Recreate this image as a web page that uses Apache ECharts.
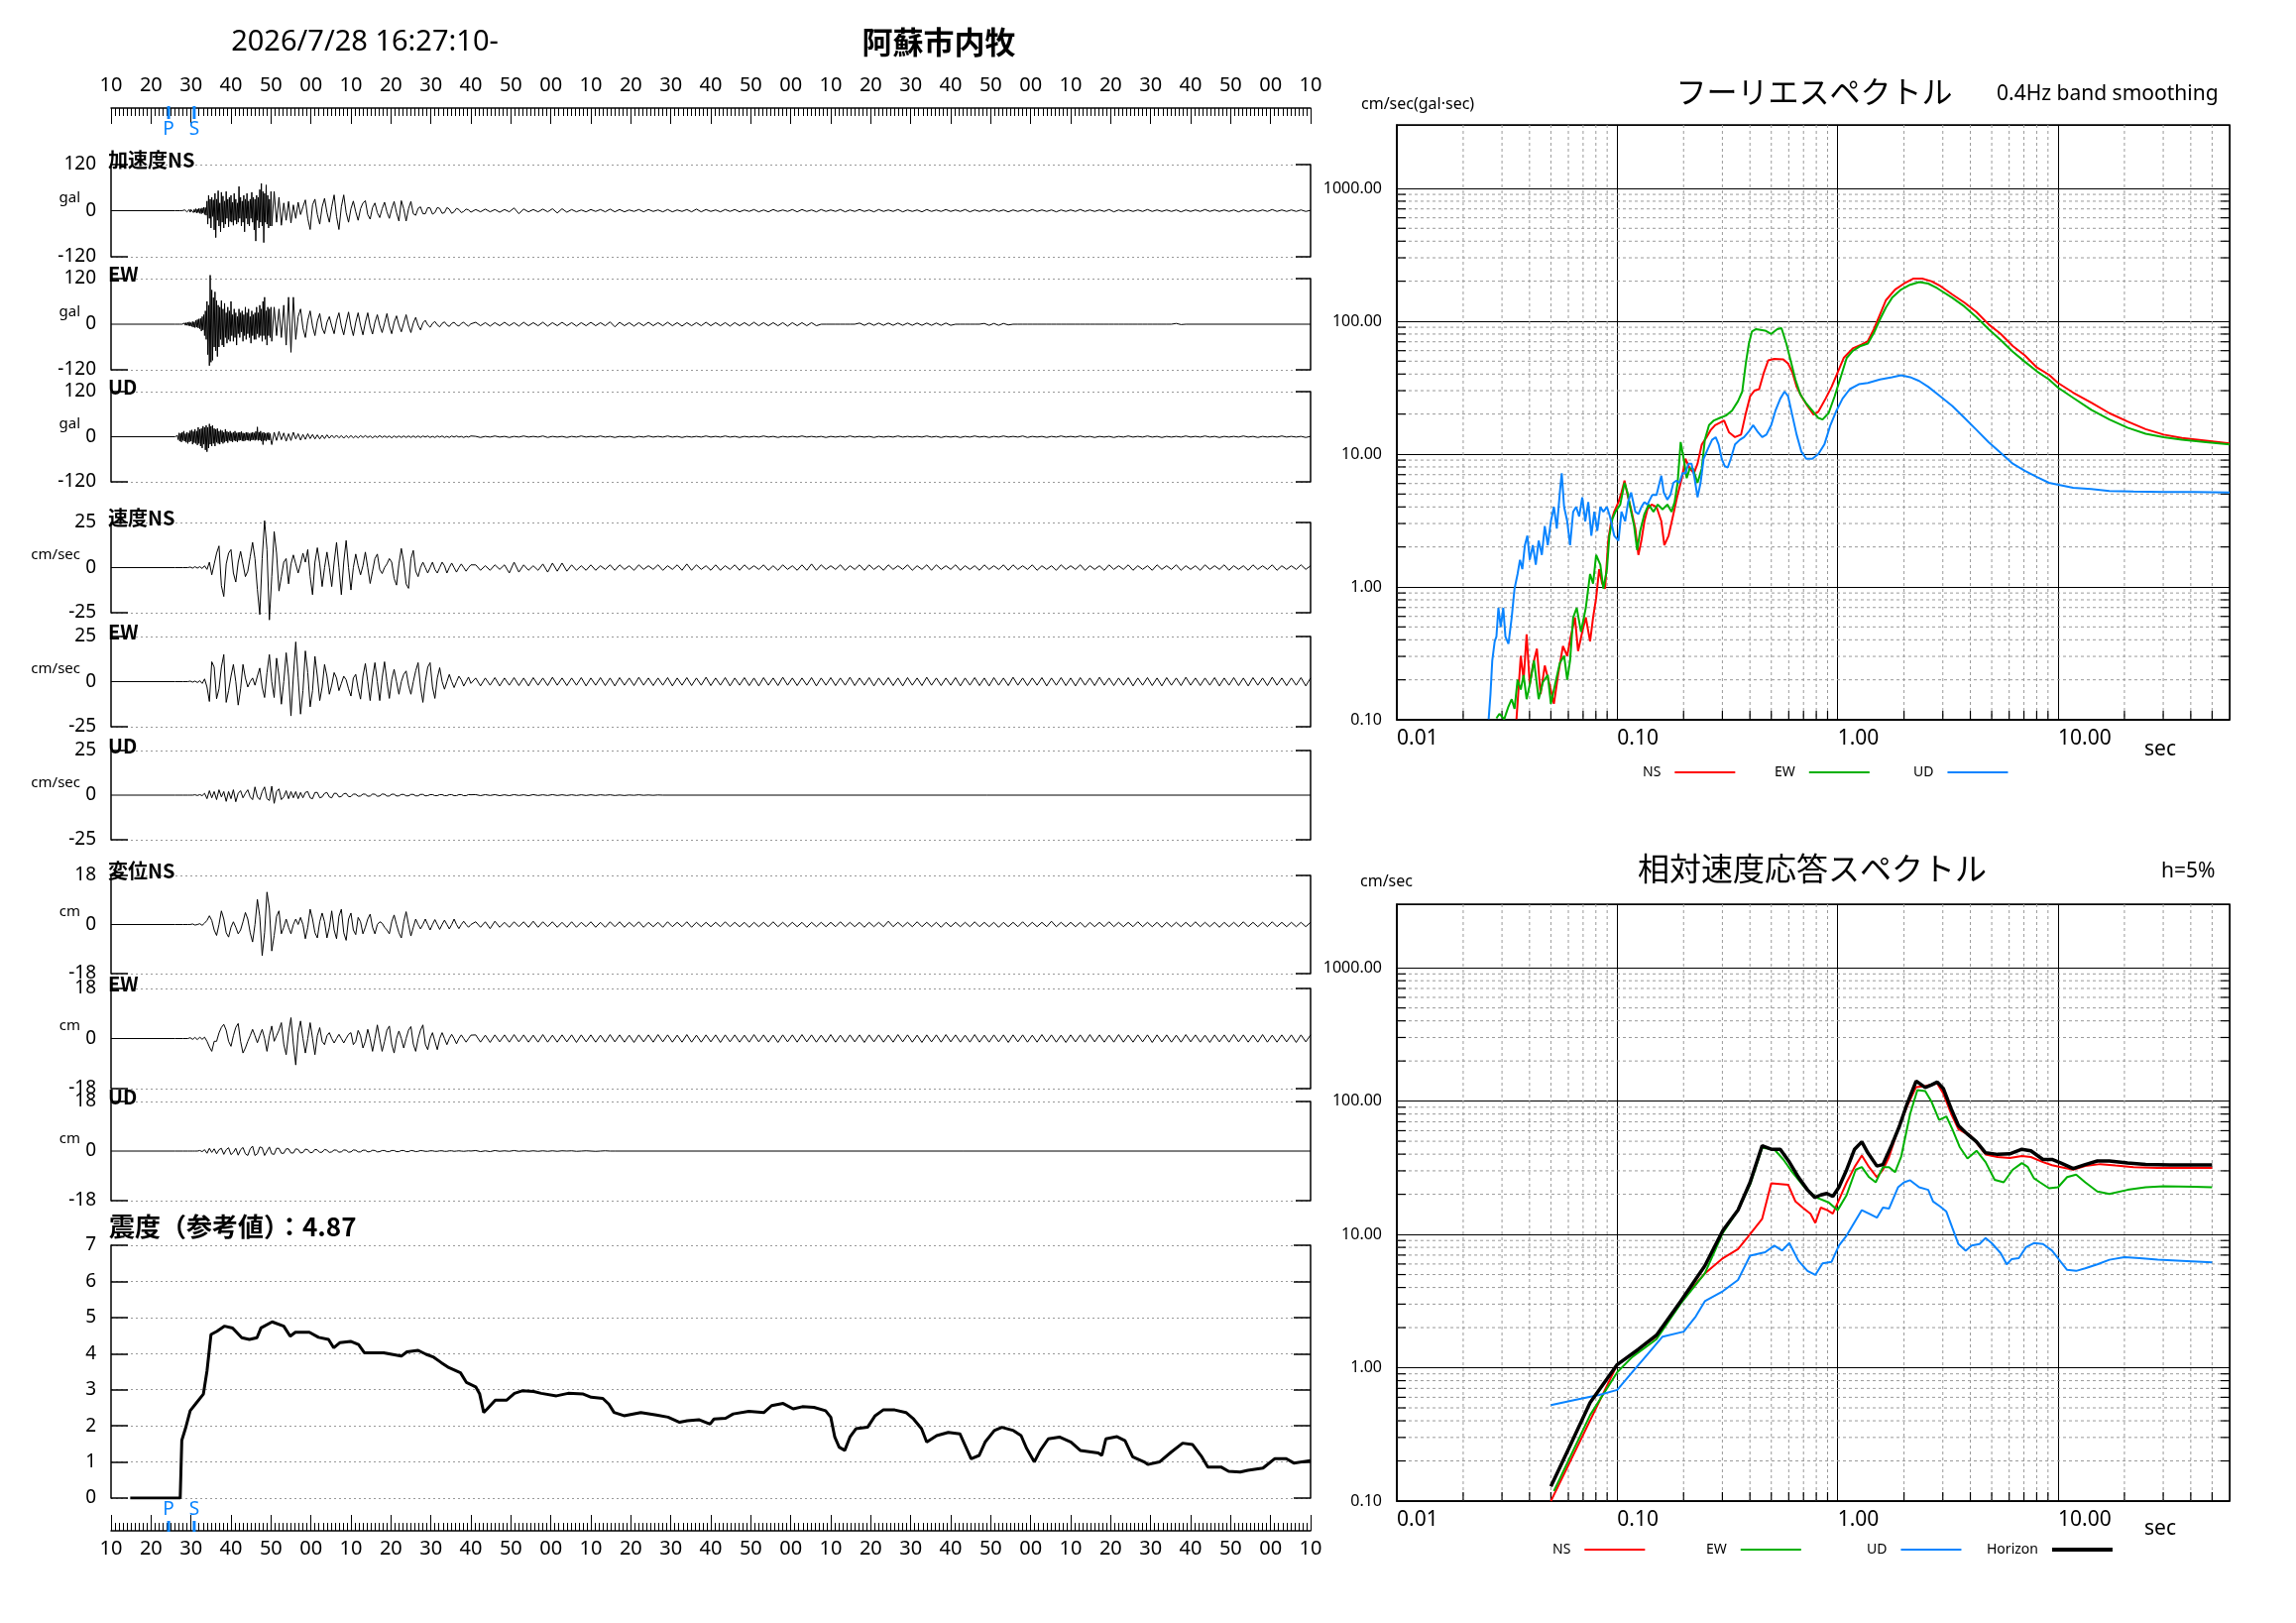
<!DOCTYPE html>
<html><head><meta charset="utf-8">
<script src="https://cdn.jsdelivr.net/npm/echarts@6/dist/echarts.min.js"></script>
<style>html,body{margin:0;padding:0;background:#fff}#c{width:2316px;height:1637px}</style>
</head><body><div id="c"></div>
<script>
// ---------------- DATA ----------------
// waveform samples: high-frequency part every 0.2 s from 16:27:26.6 (acceleration only),
// strong part every 0.6 s from 16:27:28, tail every 1.2 s from 16:28:41.2
const HF_T0 = 26.6, HF_DT = 0.2;
const STRONG_T0 = 28, STRONG_DT = 0.6, TAIL_T0 = 101.2, TAIL_DT = 1.2;
const psTimes = [24.4, 30.8];
const psLabels = ['P', 'S'];

const accNSHf = [0,0,0,0,0,0,0,
 1,-1,2,-2,1,-3,2,-2,3,-4,3,-2,4,-5,3,-4,5,-6,4,-5,6,-7,5,-8,7,-6,9,-10,8,-12,
 25,-35,40,-20,30,-45,35,-15,28,-50, 45,-70,30,-25,52,-40,20,-55,48,-30, 38,-45,25,-35,50,-20,30,-42,35,-28,
 40,-30,22,-38,45,-25,30,-35,20,-30, 63,-20,35,-40,25,-30,40,-55,30,-20, 45,-35,25,-40,30,-20,48,-30,35,-50,
 30,-79,40,-25,35,-45,55,-30,71,-40, 50,-83,45,-30,67,-35,40,-45,30,-40,50];
const accNS = [1,-2,3,-3,4,-5,5,-6,8,-10, 30,-45,40,-70,55,-50,45,-60,40,-35, 50,-45,30,-40,63,-30,35,-55,45,-25,
 48,-79,40,-35,71,-83,67,-40,50,-30, 35,-38,20,-25,24,-32,15,-20,22,-10, 10,28,-20,-49,15,30,-10,-35,10,32,
 -5,-30,10,41,-15,-49,10,41,-5,-30, 5,25,-3,-25,5,20,26,-10,-22,8, 20,-5,-18,5,22,-3,-20,5,24,-5,
 -27,26,5,-27,5,24,-8,-12,6,10, -8,-8,8,7,-9,-5,8,6,-7,-5, 8,4,-7,-3,6,3,-5,-2,4,2, -4];
const accNSTail = [3,-3,4,-3,3,-4,3,-3,7,-8,4,-3,3,-3,4,-3,5,-6,5,-4,3,-3,2,-3,3,
 -2,3,-3,4,-3,3,-3,2,-2,3,-3,3,-2,2,-3,3,-3,2,-2,3,-3,4,-3,3,-2,
 2,-3,3,-2,3,-3,2,-2,3,-3,2,-3,3,-2,2,-2,3,-3,3,-2,2,-3,3,-2,2,
 -2,3,-3,2,-2,3,-2,2,-3,3,-2,2,-2,3,-3,2,-2,2,-3,3,-2,2,-2,3,-2,
 2,-2,3,-3,2,-2,2,-2,3,-2,2,-3,2,-2,2,-2,3,-2,2,-2,2,-3,2,-2,2,
 -2,3,-2,2,-2,2,-2,3,-3,2,-2,2,-2,2,-2,3,-2,2,-2,2,-2,2,-3,2,-2,
 2,-2,3,-2,2,-2,2,-2,2,-3,2,-2,2,-2,2,-2,3,-2,2,-2,2,-2,2,-2,1];
const accEWHf = [0,0,0,0,0,0,0,
 2,-2,3,-3,4,-3,5,-4,6,-5,4,-6,7,-8,6,-9,10,-8,12,-10,14,-12,15,-18,20,-15,25,-30,35,-40,
 60,-80,50,-109,129,-100,90,-95,70,-60, 85,-70,62,-85,50,-60,45,-40,62,-55, 40,-60,55,-35,30,-50,45,-40,35,-45,
 60,-30,25,-45,40,-35,30,-55,20,-25, 40,-35,30,-20,35,-45,25,-30,45,-40, 30,-25,40,-35,20,-50,35,-30,25,-40,
 30,-40,45,-25,30,-35,50,-30,40,-45, 60,-30,71,-40,35,-55,45,-30,40,-35,45];
const accEW = [2,-3,4,-5,6,-8,10,-12,15,-20, 60,-109,129,-95,70,-85,62,-60,55,-50, 60,-45,30,-55,40,-30,35,-40,45,-25,
 40,-50,30,-40,50,-30,60,-45,45,-30, 40,-35,50,-55,71,-74,71,-40,20,40, -10,-35,10,35,-5,-30,8,28,-10,-25,
 5,20,-5,-25,10,30,-5,-28,5,32, -5,-30,5,30,-3,-28,5,30,-5,-26, 5,25,-3,-22,3,28,-5,-25,5,22,
 -3,-20,3,25,-3,-22,3,18,-3,-15, 3,10,-2,-8,2,7,-2,-7,2,6, -2,-6,2,5,-2,-5,2,5,-1,-5, 1];
const accEWTail = [5,-4,4,-5,4,-4,5,-4,4,-5,5,-4,4,-4,5,-5,4,-4,5,-4,4,-5,4,-4,5,
 -4,4,-4,6,-7,5,-4,4,-5,4,-4,5,-4,4,-4,5,-4,4,-5,4,-4,4,-4,5,-4,
 4,-4,4,-5,4,-4,4,-4,5,-4,4,-4,4,-4,4,-5,4,-4,4,-4,4,-4,0,0,0,
 0,0,0,0,0,3,-3,3,-3,3,-3,3,-3,3,-3,3,-3,3,-3,3,-3,3,-3,3,-3,
 0,0,0,0,0,0,2,-3,2,-3,2,-2,0,0,0,0,0,0,0,0,0,0,0,0,0,
 0,0,0,0,0,0,0,0,0,0,0,0,0,0,0,0,0,0,0,0,0,2,-1,0,0];
const accUDHf = [3,-8,10,-12,9,-14,12,
 -10,15,-12,8,-15,12,-18,10,-14,16,-12,18,-20,14,-16,20,-18,15,-22,25,-18,20,-25,22,-30,28,-20,25,-35,30,
 -40,25,-30,34,-20,28,-25,30,-18,22, -25,20,-15,22,-18,15,-20,18,-14,16, -18,12,-15,20,-12,14,-16,12,-10,15,
 -12,10,-14,12,-10,15,-12,10,-14,11, -10,12,-9,14,-11,10,-12,9,-10,12, -9,11,-10,8,-12,10,-9,12,-8,10,
 -10,14,-8,26,-10,12,-9,15,-12,10, -21,12,-10,9,-12,10,-8,11,-9,8,-10];
const accUD = [10,-12,8,-15,12,-10,18,-14,20,-25, -40,30,-20,34,-25,20,-18,15,-20,18, -15,20,-12,15,-18,12,-15,17,-10,14,
 -12,10,-14,26,-8,15,-12,-21,12,-10, 14,-8,10,-12,8,-10,12,-6,8,-9, 6,-7,8,-5,6,-6,5,-6,4,-5,
 5,-4,4,-3,4,-3,3,-4,3,-3, 3,-3,2,-3,3,-2,3,-2,2,-3, 2,-2,3,-2,2,-2,2,-3,2,-2,
 2,-2,2,-2,2,-2,2,-2,2,-2, 2,-1,2,-2,1,-2,2,-1,2,-2, 1,-2,2,-1,2,-1,1,-2,1,-1, 2];
const accUDTail = [1,-2,1,-1,2,-1,1,-2,1,-1,2,-1,1,-1,2,-2,1,-1,1,-2,1,-1,2,-1,1,
 -1,2,-1,1,-2,1,-1,1,-2,1,-1,2,-1,1,-1,2,-1,1,-2,1,-1,1,-1,2,-1,
 1,-1,2,-1,1,-2,1,-1,1,-1,2,-1,1,-2,1,-1,1,-1,2,-1,1,-1,1,-2,1,
 -1,1,-1,2,-1,1,-1,1,-2,1,-1,1,-1,2,-1,1,-1,1,-1,2,-1,1,-2,1,-1,
 1,-2,1,-1,2,-1,1,-2,1,-1,2,-1,1,-1,2,-2,1,-1,1,-2,1,-1,2,-1,1,
 -1,2,-1,1,-2,1,-1,1,-2,1,-1,2,-1,1,-1,2,-1,1,-2,1,-1,1,-1,2,-1,
 1,-1,2,-1,1,-2,1,-1,1,-1,2,-1,1,-2,1,-1,1,-1,2,-1,1,-1,1,-2,1];

const velNS = [0,0,0,0.3,-0.3,0.5,-0.3,0.5,-0.5,1, -1,3,-4,2,8,12,-10,-16,2,8, 10,-3,-8,3,9,2,-5,-2,6,14,
 5,-12,-26,5,26,10,-29,-5,20,8, -13,-5,3,5,-9,2,7,2,-3,2, 8,3,10,-5,-15,3,11,2,-10.5,0,
 8.6,0,-10.5,3,14,0,-15,3,15,0, -12.4,0,7.5,1,-4,1,8.6,0,-8.8,-2, 5,7.5,-1,-3.3,0,2,5,3,-6,-9.7,
 2,10.6,3,-9,-11.5,5,9.5,-2,-5,0, 3,0,-3,0,3,-1,-3,0,3,1, -3,0,2.5,0,-2.5,0,2,0,-2,0, 1.5];
const velNSTail = [1.5,-1.5,1,-1.5,1.5,-1,1.5,-3,3,-2.5,1.5,-1.5,1,-1.5,2,-2.5,2.5,-2,2.5,-2,1.5,-1.5,1,-1.5,1.5,
 -1.5,1,-1,1.5,-1.5,1.5,-1,1,-1.5,1.5,-1,1,-1,1.5,-1.5,1,-1,1.5,-1.5,2,-1.5,1.5,-1,1,-1.5,
 1.5,-1.5,1,-1,1.5,-1.5,1.5,-1,1,-1,1.5,-1.5,1,-1.5,1.5,-1,1,-1.5,1.5,-1.5,2,-1.5,1.5,-1,1,
 -1,1.5,-1.5,1,-1,1.5,-1.5,1.5,-1,1,-1.5,1.5,-1,1,-1,1.5,-1.5,1,-1,1.5,-1.5,1.5,-1,1,-1,
 1.5,-1.5,1,-1,1,-1.5,1.5,-1,1,-1,1.5,-1.5,1.5,-1,1,-1,1.5,-1.5,1,-1,1,-1.5,1.5,-1,1,
 -1,1.5,-1.5,1,-1,1,-1.5,1.5,-1,1,-1,1.5,-1.5,1,-1,1,-1.5,1.5,-1,1,-1,1.5,-1.5,1,-1,
 1,-1.5,1.5,-1,1,-1,1.5,-1.5,1,-1,1,-1.5,1.5,-1,1,-1,1.5,-1.5,1,-1,1,-1,1.5,-1,1];
const velEW = [0,0,0,0.3,-0.3,0.3,-0.5,0.5,-1,1.5, -3,-11,11,8,-9.5,-4,8,15,-11.5,-5, 3,9.5,0,-13,-4,9.5,2,-3,0,2,
 -2,3,7.5,-3,-8.8,5,15,0,-8.8,13, 3,-12.5,0,16,3,-19,3,22,2,-18, -5,17,5,-14,-5,14,3,-10.5,-3,9.5,
 3,-7,-2,5,2,-5,-1,3,1,-4, -8,2,4,-4,-9.7,3,10,0,-10.5,2, 10.5,0,-10.5,2,11,0,-9.3,1,6.8,0,
 -7,0,4,5.9,-2,-7,0,6,10.5,-3, -11.5,0,8,10.5,-3,-9.3,2,7.7,0,-4.2, 0,4,0,-3.3,0,3,1,-2.5,0,2.5, -1];
const velEWTail = [2,-2.4,2,-2,2.2,-2.4,2,-2,2.2,-2.2,2,-2.4,2.2,-2,2,-2.2,2.4,-2,2,-2.2,2,-2,2.2,-2.4,2,
 -2,2.2,-2.2,2,-2.4,2.2,-2,2,-2.2,2.4,-2,2,-2.2,2,-2,2.2,-2.4,2,-2,2.2,-2.2,2,-2,2.4,-2.2,
 2,-2,2.2,-2.4,2,-2,2.2,-2.2,2,-2.4,2.2,-2,2,-2.2,2.4,-2,2,-2.2,2,-2,2.2,-2.4,2,-2,2.2,
 -2.2,2,-2,2.4,-2.2,2,-2,2.2,-2.4,2,-2,2.2,-2.2,2,-2.4,2.2,-2,2,-2.2,2.4,-2,2,-2.2,2,-2,
 2.2,-2.4,2,-2,2.2,-2.2,2,-2.4,2.2,-2,2,-2.2,2.4,-2,2,-2.2,2,-2,2.2,-2.4,2,-2,2.2,-2.2,2,
 -2.4,2.2,-2,2,-2.2,2.4,-2,2,-2.2,2,-2,2.2,-2.4,2,-2,2.2,-2.2,2,-2.4,2.2,-2,2,-2.2,2.4,-2,
 2,-2.2,2,-2,2.2,-2.4,2,-2,2.2,-2.2,2,-2.4,2.2,-2,2,-2.2,2.4,-2,2,-2.2,2,-2,2.2,-2.4,2];
const velUD = [0,0,0,0,0,0.2,-0.2,0.3,-0.3,1, -2,2.5,-1.5,2,-2.5,3,-1,2,-3.5,2, -2,3,-3.7,1,2.5,-1.5,1,3,-1,-2.5,
 4.6,-1,-2.5,2,4.6,-2,-3,5,-4.6,2, 3.5,-2.5,-1,2.5,-2,2,-1.5,2,-2,1.5, -1.5,1.5,2,-1.5,-2,1.5,1.5,-1.5,-1,1,
 1.5,-1,-1.5,1,1,-1,-0.8,0.8,1,-0.8, -0.8,0.6,0.5,-0.6,-0.5,0.6,0.5,-0.6,-0.5,0.6, 0.5,-0.6,-0.5,0.6,0.5,-0.5,-0.5,0.5,0.5,-0.5,
 -0.4,0.4,0.4,-0.4,-0.4,0.4,0.4,-0.4,-0.4,0.4, 0.4,-0.4,-0.3,0.3,0.3,-0.3,-0.3,0.3,0.3,-0.3, -0.3,0.3,0.3,-0.3,-0.3,0.3,0.3,-0.3,-0.3,0.3, 0.2];
const velUDTail = [0.3,-0.3,0.3,-0.2,0.3,-0.3,0.2,-0.3,0.3,-0.2,0.2,-0.3,0.3,-0.2,0.2,-0.2,0.3,-0.2,0.2,-0.2,
 0.2,-0.2,0.2,-0.2,0.2,-0.2,0.2,-0.1,0.2,-0.2,0.1,-0.2,0.1,-0.1,0.2,-0.1,0.1,-0.1,0.1,0];

const dispNS = [0,0,0,0,0.2,-0.2,0,0.3,-0.3,0.5, 1.5,3.2,1.5,-2,-4,0,5,2,-3,-4.6, -1,1,-1,-3.4,-2,1,4.4,2,-3,-6.4,
 0,9.2,3,-11.4,-3,11.9,6,-9.7,-4,3, 5,-3.4,-1,2,-1,-3.4,0,2,0,2.6, 0,-5.2,-1,5.6,2,-3,-4.9,1,4.2,1,
 -4.9,-1,5,-2,-5.2,3,5.6,-3,-5.8,2, 4.2,-2,-3.7,2.6,1,-3.4,-1,2,3.8,-1, -3.4,0,1,0.5,-1,-2,-3.4,1,3.5,0,
 -3,-4.9,1,4.7,0,-4.2,-1,2,0,-1.6, 0,2,0,-2,0,1.8,0,-1.8,0,1.6, 0,-1.6,0,2,0,-1.5,0,1.2,0,-1, 0];
const dispNSTail = [1,-1,1,-1.5,1.2,-1,0.8,-1,1,-0.8,1,-1,1.2,-1,1,-0.8,1,-1,0.8,-1,1,-1,0.8,-0.8,1,
 -1,0.8,-1,1,-0.8,1,-1,0.8,-0.8,1,-1,0.8,-0.8,0.8,-1,1,-0.8,0.8,-0.8,1,-1,0.8,-0.8,0.8,-0.8,
 0.8,-0.8,1,-0.8,0.8,-0.8,0.8,-1,0.8,-0.8,0.8,-0.8,1,-0.8,0.8,-0.8,0.8,-0.8,0.8,-1,0.8,-0.8,0.8,-0.8,0.8,
 -0.8,1,-0.8,0.8,-0.8,0.8,-1,0.8,-0.8,0.8,-0.8,1.2,-0.8,0.8,-0.8,0.8,-0.8,1,-0.8,0.8,-0.8,0.8,-1,0.8,-0.8,
 0.8,-0.8,0.8,-0.8,1,-0.8,0.8,-0.8,0.8,-1,0.8,-0.8,0.8,-0.8,1,-0.8,0.8,-0.8,0.8,-0.8,1.2,-0.8,0.8,-0.8,0.8,
 -0.8,0.8,-1,0.8,-0.8,0.8,-0.8,1,-0.8,0.8,-0.8,0.8,-0.8,1,-0.8,0.8,-0.8,0.8,-1,0.8,-0.8,0.8,-0.8,0.8,-0.8,
 1,-0.8,0.8,-0.8,0.8,-1,0.8,-0.8,0.8,-0.8,1,-0.8,0.8,-0.8,0.8,-0.8,1,-0.8,0.8,-0.8,0.8,-0.8,0.8,-0.8,0.8];
const dispEW = [0,0,0,0.3,-0.3,0.4,-0.4,0.5,-0.3,0.5, -1,-3,-4.6,-1,-1,2,4,5.1,3,-1, -2.8,1,4,5.4,-1,-5.2,-3.4,-1,1,3.3,
 1,-1.5,1,3.3,0,-4.6,1,4.5,-1,1, 3,5.7,-2,-5.8,2,7.5,-2,-9.5,2,6.3, 0,-5.2,0,5.7,0,-5.8,1,3.9,-1,-2.2,
 1,2.1,0,-1.6,0,1.5,0,-1.6,0,1.5, 2.1,-2.2,-1,2.9,1,-3.4,-1,3.3,0,-4.6, 0,4.9,0,-4.6,-1,3,4.5,-2,-5.2,0,
 2.7,0,-3.4,0,3,4.3,-2,-4.6,0,3, 4.9,-2,-4,0,2.1,-1,-4,0,2.1,0, -2.2,0,1.5,0,-1.9,0,1.3,0,-1.3,0, 1.2];
const dispEWTail = [1.3,-1.3,1.2,-1.4,1.3,-1.2,1.3,-1.3,1.4,-1.2,1.3,-1.3,1.2,-1.3,1.4,-1.3,1.2,-1.3,1.3,-1.2,1.3,-1.4,1.3,-1.2,1.3,
 -1.3,1.2,-1.3,1.4,-1.2,1.3,-1.3,1.2,-1.4,1.3,-1.2,1.3,-1.3,1.4,-1.2,1.3,-1.3,1.2,-1.3,1.4,-1.3,1.2,-1.3,1.3,-1.2,
 1.3,-1.4,1.3,-1.2,1.3,-1.3,1.2,-1.3,1.4,-1.2,1.3,-1.3,1.2,-1.4,1.3,-1.2,1.3,-1.3,1.4,-1.2,1.3,-1.3,1.2,-1.3,1.4,
 -1.3,1.2,-1.3,1.3,-1.2,1.3,-1.4,1.3,-1.2,1.3,-1.3,1.2,-1.3,1.4,-1.2,1.3,-1.3,1.2,-1.4,1.3,-1.2,1.3,-1.3,1.4,-1.2,
 1.3,-1.3,1.2,-1.3,1.4,-1.3,1.2,-1.3,1.3,-1.2,1.3,-1.4,1.3,-1.2,1.3,-1.3,1.2,-1.3,1.4,-1.2,1.3,-1.3,1.2,-1.4,1.3,
 -1.2,1.3,-1.3,1.4,-1.2,1.3,-1.3,1.2,-1.3,1.4,-1.3,1.2,-1.3,1.3,-1.2,1.3,-1.4,1.3,-1.2,1.3,-1.3,1.2,-1.3,1.4,-1.2,
 1.3,-1.3,1.2,-1.4,1.3,-1.2,1.3,-1.3,1.4,-1.2,1.3,-1.3,1.2,-1.3,1.4,-1.3,1.2,-1.3,1.3,-1.2,1.3,-1.4,1.3,-1.2,1.3];
const dispUD = [0,0,0,0,0,0,0,0.2,-0.2,0.5, -0.8,1,-0.5,0.8,-1,0.5,1,-1.2,0.5,1.2, -1.3,-0.5,1,-1.5,0.5,1.3,-1,-1.6,0.8,1.8,
 -1.6,-1,1.5,1.2,-1.6,0,1.5,-1,-1.2,1, 1,-0.8,-0.8,0.8,0.8,-0.7,-0.7,0.8,0.6,-0.7, -0.5,0.7,0.5,-0.6,-0.5,0.6,0.4,-0.5,-0.4,0.6,
 0.3,-0.5,-0.3,0.4,0.3,-0.4,-0.3,0.4,0.3,-0.4, -0.3,0.4,0.3,-0.3,-0.3,0.3,0.3,-0.3,-0.2,0.3, 0.2,-0.3,-0.2,0.2,0.2,-0.2,-0.2,0.2,0.2,-0.2,
 -0.2,0.2,0.2,-0.2,-0.2,0.2,0.1,-0.2,-0.1,0.2, 0.1,-0.1,-0.1,0.1,0.1,-0.1,-0.1,0.1,0.1,-0.1, -0.1,0.1,0.1,-0.1,0,0.1,0,-0.1,0,0.1, 0];
const dispUDTail = [0.2,-0.2,0.1,-0.2,0.2,-0.1,0.1,-0.1,0.2,-0.1,0.1,-0.1,0.1,-0.1,0.1,-0.1,0.1,-0.1,0.1,0,0.1,-0.1,0,0.1,0,-0.1,0,0.1,0,0];

// seismic intensity (reference value) vs time [s after 16:27:00, intensity]
const intensity = [[14.8,0],[27.3,0],[27.7,1.6],[28.6,1.92],[29.8,2.42],[31.1,2.6],[33.1,2.88],[34.0,3.52],[35.0,4.53],[36.5,4.62],[38.4,4.76],[40.4,4.71],[42.7,4.44],[44.6,4.39],[46.5,4.44],[47.5,4.71],[50.3,4.88],[53.2,4.76],[54.8,4.48],[56.1,4.59],[59.6,4.59],[61.9,4.45],[64.4,4.39],[65.7,4.16],[67.2,4.3],[69.9,4.34],[71.9,4.25],[73.4,4.02],[78.2,4.02],[82.6,3.93],[84.0,4.05],[86.8,4.09],[88.8,3.98],[90.7,3.9],[92.6,3.75],[94.5,3.61],[97.4,3.47],[98.9,3.2],[101.2,3.08],[102.2,2.88],[103.2,2.37],[104.1,2.47],[106.1,2.71],[108.9,2.71],[110.9,2.9],[112.8,2.97],[115.7,2.95],[117.6,2.9],[121.4,2.83],[124.3,2.9],[128.1,2.88],[130.1,2.79],[133.0,2.76],[134.5,2.6],[135.8,2.37],[138.3,2.28],[142.5,2.37],[146.4,2.3],[149.3,2.24],[152.2,2.1],[154.1,2.14],[157.0,2.17],[159.8,2.05],[160.8,2.19],[163.7,2.21],[165.6,2.33],[169.5,2.4],[173.3,2.37],[175.2,2.56],[178.1,2.62],[180.6,2.47],[182.9,2.53],[185.8,2.51],[188.7,2.42],[190.0,2.24],[191.0,1.69],[192.1,1.41],[193.5,1.32],[194.8,1.69],[196.3,1.92],[199.2,1.96],[201.1,2.28],[203.1,2.44],[206.0,2.44],[208.8,2.37],[210.7,2.19],[212.7,1.92],[214.0,1.55],[216.5,1.73],[219.4,1.82],[222.3,1.78],[223.6,1.46],[225.1,1.09],[227.1,1.18],[228.6,1.55],[230.9,1.87],[232.8,1.96],[235.7,1.87],[237.6,1.73],[239.0,1.37],[240.9,1.0],[242.4,1.32],[244.4,1.64],[247.2,1.69],[250.1,1.55],[252.4,1.32],[256.9,1.25],[257.8,1.18],[258.8,1.64],[261.6,1.7],[263.6,1.59],[265.5,1.14],[268.4,1.0],[269.3,0.93],[272.2,1.0],[275.1,1.27],[278.0,1.52],[280.5,1.48],[282.8,1.14],[284.3,0.86],[287.6,0.86],[289.5,0.74],[292.4,0.72],[294.3,0.77],[298.1,0.83],[301.0,1.09],[303.9,1.09],[305.8,0.97],[310,1.04]];

// Fourier spectra [period s, cm/sec]
const fourierNS = [[0.0349,0.101],[0.0365,0.303],[0.0376,0.2],[0.0388,0.44],[0.0401,0.184],[0.0414,0.256],[0.0432,0.343],[0.0449,0.156],[0.0469,0.256],[0.0493,0.184],[0.0516,0.132],[0.0539,0.217],[0.0567,0.358],[0.0593,0.303],[0.0615,0.422],[0.0643,0.589],[0.0664,0.329],[0.0694,0.459],[0.072,0.589],[0.0753,0.389],[0.0777,0.589],[0.0802,0.822],[0.0828,1.36],[0.0854,1.06],[0.0881,0.97],[0.091,2.23],[0.0939,3.12],[0.0969,3.68],[0.1013,4.35],[0.1045,5.14],[0.1079,6.32],[0.1113,4.93],[0.1156,3.84],[0.1208,2.75],[0.1247,1.74],[0.1287,2.23],[0.1328,3.12],[0.1371,3.84],[0.1433,4.17],[0.1507,4.0],[0.1585,3.12],[0.1636,2.06],[0.171,2.43],[0.1788,3.39],[0.1879,4.93],[0.1964,6.59],[0.204,9.21],[0.2132,7.8],[0.2229,7.17],[0.2314,8.47],[0.2419,11.8],[0.2544,13.4],[0.2659,15.2],[0.2779,16.5],[0.2922,17.2],[0.3054,17.9],[0.3212,14.6],[0.3422,13.4],[0.3645,14.0],[0.381,19.5],[0.4007,27.2],[0.4188,30.0],[0.4404,30.8],[0.463,41.2],[0.4841,50.7],[0.5157,52.0],[0.5668,51.6],[0.596,47.9],[0.623,41.2],[0.6513,32.1],[0.685,27.2],[0.7295,23.0],[0.777,19.8],[0.8172,20.8],[0.8814,26.1],[0.9389,32.1],[1.0,41.2],[1.065,52.9],[1.171,62.4],[1.287,66.8],[1.371,70.8],[1.46,87.1],[1.555,112],[1.657,144],[1.821,173],[2.002,192],[2.201,209],[2.419,209],[2.659,200],[2.922,184],[3.313,159],[3.762,138],[4.266,117],[4.841,94.7],[5.492,80.2],[6.23,65.1],[7.069,55.2],[8.019,44.8],[9.097,39.5],[10,34.3],[11.71,29.0],[14.15,24.4],[17.1,20.3],[20.66,17.6],[24.97,15.4],[30.16,14.0],[36.44,13.2],[46.91,12.6],[60,12.0]];
const fourierEW = [[0.0283,0.1025],[0.0292,0.111],[0.0307,0.101],[0.0321,0.126],[0.0332,0.143],[0.0342,0.121],[0.0353,0.2],[0.0365,0.169],[0.0376,0.217],[0.0388,0.143],[0.0401,0.184],[0.0419,0.279],[0.044,0.143],[0.046,0.192],[0.0484,0.217],[0.05,0.132],[0.0522,0.184],[0.0549,0.267],[0.0574,0.303],[0.0593,0.2],[0.0611,0.279],[0.0631,0.589],[0.0655,0.696],[0.0685,0.459],[0.072,0.696],[0.0753,1.25],[0.0777,1.06],[0.0802,1.74],[0.0838,1.47],[0.0865,0.971],[0.0898,1.36],[0.0921,2.43],[0.0951,3.25],[0.0981,3.68],[0.1032,4.17],[0.1079,6.07],[0.1113,5.14],[0.1156,3.68],[0.1193,2.87],[0.1231,1.89],[0.1271,2.64],[0.1328,3.53],[0.1388,4.17],[0.146,3.68],[0.1527,4.17],[0.1605,3.84],[0.1688,4.17],[0.1765,3.68],[0.1821,4.35],[0.1879,6.07],[0.194,12.3],[0.2002,9.21],[0.2066,6.59],[0.2132,7.8],[0.2201,7.8],[0.2314,6.07],[0.2419,7.8],[0.2497,12.8],[0.2609,16.5],[0.2744,17.9],[0.2922,18.7],[0.3113,19.5],[0.3315,21.2],[0.3531,25.0],[0.369,29.5],[0.3834,48.7],[0.3957,67.9],[0.4083,83.6],[0.4266,87.1],[0.469,85.0],[0.4996,80.2],[0.5321,87.1],[0.5562,88.6],[0.585,67.9],[0.6152,48.7],[0.6431,36.4],[0.6762,28.3],[0.7204,24.0],[0.7674,21.2],[0.8172,18.7],[0.8541,18.2],[0.9097,20.3],[0.9689,27.2],[1.032,37.9],[1.099,52.9],[1.171,59.9],[1.271,65.1],[1.371,67.9],[1.46,81.5],[1.555,103],[1.657,127],[1.765,150],[1.94,173],[2.132,188],[2.344,197],[2.576,192],[2.832,177],[3.313,150],[3.762,129],[4.266,107],[4.841,87.1],[5.492,72.0],[6.23,58.9],[7.069,49.5],[8.019,41.9],[9.097,36.4],[10,31.6],[11.71,26.5],[14.15,21.5],[17.1,18.2],[20.66,15.8],[24.97,14.2],[30.16,13.4],[36.44,12.8],[46.91,12.3],[60,11.8]];
const fourierUD = [[0.0261,0.101],[0.0266,0.156],[0.0271,0.279],[0.0278,0.389],[0.0283,0.422],[0.0289,0.696],[0.0296,0.499],[0.0304,0.696],[0.0311,0.422],[0.0321,0.373],[0.0332,0.589],[0.0342,0.971],[0.0353,1.25],[0.0362,1.6],[0.0371,1.36],[0.0381,2.06],[0.0391,2.43],[0.0401,1.6],[0.0414,2.06],[0.0427,1.47],[0.044,2.23],[0.0455,1.74],[0.0469,2.87],[0.0484,2.06],[0.05,3.12],[0.0516,4.0],[0.0532,2.75],[0.0549,5.14],[0.056,7.17],[0.0574,4.0],[0.0593,3.12],[0.0611,2.06],[0.0631,3.68],[0.0651,4.0],[0.0672,3.39],[0.0694,4.73],[0.0716,3.12],[0.0739,4.35],[0.0763,2.43],[0.0787,3.68],[0.0812,2.64],[0.0838,4.0],[0.0865,3.68],[0.0898,4.0],[0.0927,3.39],[0.0969,2.43],[0.1013,2.23],[0.1045,3.68],[0.1086,3.12],[0.112,4.35],[0.1156,5.14],[0.1208,3.68],[0.1247,3.53],[0.1287,4.0],[0.1328,4.35],[0.1371,4.17],[0.1442,4.93],[0.1507,4.93],[0.1555,6.07],[0.1585,6.87],[0.1626,5.14],[0.1688,4.53],[0.1742,4.93],[0.1798,6.07],[0.1856,6.32],[0.1915,6.07],[0.1977,7.17],[0.204,7.17],[0.2105,8.47],[0.2173,8.47],[0.2243,6.59],[0.2314,4.73],[0.2388,6.07],[0.2465,9.21],[0.2576,10.9],[0.2693,12.8],[0.2797,13.4],[0.2886,11.8],[0.2979,9.21],[0.3074,8.12],[0.3173,7.92],[0.3274,9.21],[0.3422,11.8],[0.3599,12.8],[0.3762,13.4],[0.3932,14.6],[0.4136,16.5],[0.4349,14.6],[0.4545,13.4],[0.475,14.0],[0.4996,16.5],[0.5222,21.2],[0.5492,26.1],[0.5741,29.5],[0.596,27.2],[0.623,19.5],[0.6513,14.0],[0.685,10.4],[0.7204,9.21],[0.7674,9.21],[0.8172,10.0],[0.8703,11.8],[0.9271,16.5],[0.9875,21.2],[1.052,26.1],[1.135,30.8],[1.247,33.5],[1.371,34.3],[1.555,36.4],[1.765,37.9],[1.94,39.2],[2.132,37.9],[2.344,35.5],[2.576,32.1],[2.922,27.2],[3.313,23.0],[3.762,18.7],[4.266,15.2],[4.841,12.3],[5.492,10.2],[6.23,8.47],[7.069,7.47],[8.019,6.71],[9.097,6.07],[10.32,5.82],[11.71,5.58],[14.15,5.45],[17.1,5.27],[22.0,5.22],[30.16,5.18],[41.34,5.18],[60,5.14]];

// relative velocity response spectra h=5% [period s, cm/sec]
const respNS = [[0.05,0.1],[0.1,1.056],[0.1247,1.374],[0.1507,1.71],[0.194,3.154],[0.2497,5.1],[0.3016,6.63],[0.3531,7.76],[0.3882,9.41],[0.4545,13.1],[0.4996,24.2],[0.596,23.6],[0.6431,17.7],[0.6937,15.9],[0.7528,14.3],[0.7918,12.2],[0.8381,15.9],[0.8982,15.2],[0.9508,14.3],[1.013,18.1],[1.099,24.6],[1.193,32.0],[1.287,39.1],[1.388,32.0],[1.507,26.9],[1.605,30.6],[1.71,38.1],[1.904,65.6],[2.066,91.4],[2.271,127.5],[2.497,129.7],[2.659,133.2],[2.832,135.5],[3.016,113.8],[3.274,80.2],[3.531,61.7],[3.762,58.0],[4.007,55.1],[4.266,48.7],[4.69,39.8],[5.321,38.1],[6.037,37.5],[6.85,38.8],[7.529,38.1],[8.541,34.9],[9.389,33.1],[10.32,32.0],[11.71,30.6],[13.28,32.6],[15.55,33.7],[18.21,32.9],[22.0,32.0],[28.32,31.5],[50,31.5]];
const respEW = [[0.0516,0.119],[0.0753,0.441],[0.1,0.927],[0.1171,1.205],[0.1507,1.636],[0.194,3.02],[0.2497,5.1],[0.3016,10.3],[0.3531,15.2],[0.4007,23.6],[0.4545,44.6],[0.5157,43.5],[0.5668,36.5],[0.623,29.3],[0.7069,22.6],[0.8019,18.9],[0.9097,17.4],[1.0,15.2],[1.099,19.8],[1.208,30.6],[1.287,32.0],[1.388,26.9],[1.488,24.6],[1.605,32.0],[1.71,32.0],[1.821,29.3],[1.94,38.1],[2.132,80.2],[2.3,121],[2.497,118.9],[2.659,99.8],[2.886,72.2],[3.113,76.8],[3.313,61.7],[3.575,45.4],[3.882,37.1],[4.266,42.4],[4.69,34.9],[5.157,25.7],[5.668,24.6],[6.23,30.6],[6.85,34.3],[7.295,32.0],[7.77,26.4],[8.276,24.6],[9.097,22.2],[10,22.6],[10.99,26.9],[12.08,28.1],[13.28,24.6],[15.07,21.0],[17.1,20.1],[20.66,21.6],[24.97,22.6],[30.16,23.0],[41.34,22.8],[50,22.6]];
const respUD = [[0.05,0.525],[0.0643,0.573],[0.0828,0.625],[0.1,0.682],[0.1171,0.927],[0.1371,1.258],[0.1605,1.71],[0.2002,1.866],[0.2271,2.426],[0.2497,3.154],[0.3016,3.756],[0.3531,4.553],[0.4007,6.926],[0.469,7.362],[0.5157,8.249],[0.5597,7.558],[0.6037,8.617],[0.6636,6.344],[0.7295,5.326],[0.7918,4.966],[0.8541,6.072],[0.9389,6.236],[1.013,8.249],[1.099,9.83],[1.171,11.71],[1.287,15.22],[1.388,14.31],[1.507,13.35],[1.605,15.9],[1.71,15.62],[1.879,22.56],[2.002,24.62],[2.132,25.5],[2.344,22.56],[2.576,21.59],[2.71,17.66],[2.922,16.18],[3.113,14.82],[3.313,11.2],[3.531,8.469],[3.809,7.558],[4.057,8.249],[4.404,8.469],[4.69,9.406],[4.996,8.617],[5.492,7.236],[5.85,5.97],[6.152,6.517],[6.636,6.63],[7.159,8.036],[7.77,8.617],[8.541,8.469],[9.389,7.558],[10.32,6.18],[10.99,5.421],[12.08,5.326],[13.28,5.566],[15.07,5.97],[17.1,6.457],[20.01,6.746],[23.44,6.63],[28.32,6.457],[36.44,6.344],[50,6.18]];
const respH = [[0.05,0.129],[0.0604,0.25],[0.0753,0.548],[0.1,1.056],[0.1247,1.374],[0.1507,1.755],[0.194,3.154],[0.2497,5.814],[0.3016,10.72],[0.3531,15.22],[0.4007,24.62],[0.4545,46.23],[0.4996,43.49],[0.5492,43.49],[0.6037,34.93],[0.6636,26.87],[0.7295,21.59],[0.7869,18.94],[0.8381,19.78],[0.8927,20.31],[0.9508,19.27],[1.013,22.56],[1.099,30.64],[1.193,43.49],[1.287,49.58],[1.371,40.89],[1.507,32.57],[1.605,33.43],[1.765,47.46],[1.904,64.43],[2.066,95.52],[2.271,141.6],[2.497,126.4],[2.659,132],[2.832,139.1],[3.016,124.2],[3.274,87.52],[3.531,65.56],[3.882,56.51],[4.266,49.58],[4.69,40.89],[5.321,39.83],[6.037,40.18],[6.85,43.49],[7.529,42.36],[8.541,36.49],[9.389,36.49],[10.32,34.32],[11.71,31.18],[13.28,33.43],[15.07,35.55],[17.1,35.55],[20.66,34.32],[24.97,33.43],[32.13,33.14],[50,33.14]];

// minor grid values for log axes
const minorX = [0.02,0.03,0.04,0.05,0.06,0.07,0.08,0.09,0.2,0.3,0.4,0.5,0.6,0.7,0.8,0.9,2,3,4,5,6,7,8,9,20,30,40,50];
const minorY = [0.2,0.3,0.4,0.5,0.6,0.7,0.8,0.9,2,3,4,5,6,7,8,9,20,30,40,50,60,70,80,90,200,300,400,500,600,700,800,900];

// panel texts
const panelNames = ['加速度NS','EW','UD','速度NS','EW','UD','変位NS','EW','UD'];
const panelUnits = ['gal','gal','gal','cm/sec','cm/sec','cm/sec','cm','cm','cm'];
const panelMax = [120,120,120,25,25,25,18,18,18];
const panelWaves = [[accNS,accNSTail,accNSHf],[accEW,accEWTail,accEWHf],[accUD,accUDTail,accUDHf],[velNS,velNSTail],[velEW,velEWTail],[velUD,velUDTail],[dispNS,dispNSTail],[dispEW,dispEWTail],[dispUD,dispUDTail]];

// ---------------- LAYOUT / STYLE ----------------
const panelLayout = [[166,93],[281,92],[395,91],[527,91],[642,91],[757,90],[883,99],[997,101],[1111,100]];
const PLOT_LEFT = 112, PLOT_W = 1210;
const PS_COLOR = '#0a84ff';
const C_NS = '#ff0000', C_EW = '#00b000', C_UD = '#0a84ff', C_H = '#000000';
const FONT = 'Noto Sans';
const JP = '"Noto Sans CJK JP"';

function buildWave(strong, tail, hf) {
  const pts = [[10, 0], [26, 0]];
  let tEnd = 26;
  if (hf) {
    hf.forEach((v, k) => pts.push([+(HF_T0 + k * HF_DT).toFixed(2), v]));
    tEnd = HF_T0 + (hf.length - 1) * HF_DT;
  }
  strong.forEach((v, i) => {
    const t = STRONG_T0 + i * STRONG_DT;
    if (t > tEnd + 1e-6) pts.push([+t.toFixed(2), v]);
  });
  tail.forEach((v, j) => pts.push([+(TAIL_T0 + j * TAIL_DT).toFixed(2), v]));
  if (pts[pts.length - 1][0] < 310) pts.push([310, 0]);
  return pts;
}
const timeFmt = v => String(Math.round(v) % 60).padStart(2, '0');
function decadeFmt(v) {
  const l = Math.log10(v);
  if (Math.abs(l - Math.round(l)) > 1e-6) return '';
  return v.toFixed(2);
}

const grids = [], xAxes = [], yAxes = [], series = [], graphics = [];
const blackLine = {show: true, onZero: false, lineStyle: {color: '#000', width: 1.5}};
const dotted = {show: true, lineStyle: {color: '#999', type: [2, 3], width: 1}};

panelLayout.forEach((L, i) => {
  const M = panelMax[i];
  grids.push({left: PLOT_LEFT, top: L[0], width: PLOT_W, height: L[1], outerBoundsMode: 'none', containLabel: false});
  if (i === 0) {
    xAxes.push({type: 'value', gridIndex: i, min: 10, max: 310, interval: 10, position: 'top', offset: 57,
      axisLine: blackLine,
      axisTick: {show: true, inside: true, length: 16, lineStyle: {color: '#000', width: 1}},
      minorTick: {show: true, splitNumber: 10, length: 8, lineStyle: {color: '#000', width: 1}},
      axisLabel: {show: true, margin: 13, color: '#000', fontSize: 20, fontFamily: FONT, formatter: timeFmt},
      splitLine: {show: false}, minorSplitLine: {show: false}});
  } else {
    xAxes.push({type: 'value', gridIndex: i, min: 10, max: 310, interval: 10, show: false});
  }
  yAxes.push({type: 'value', gridIndex: i, min: -M, max: M, interval: M, position: 'left',
    axisLine: blackLine,
    axisTick: {show: true, inside: true, length: 17, customValues: [-M, M], lineStyle: {color: '#000', width: 1.5}},
    axisLabel: {show: true, margin: 15, color: '#000', fontSize: 19, fontFamily: FONT},
    splitLine: dotted});
  yAxes.push({type: 'value', gridIndex: i, min: -M, max: M, interval: M, position: 'right',
    axisLine: blackLine,
    axisTick: {show: true, inside: true, length: 15, customValues: [-M, M], lineStyle: {color: '#000', width: 1.5}},
    axisLabel: {show: false}, splitLine: {show: false}});
  series.push({type: 'line', name: panelNames[i] + i, xAxisIndex: i, yAxisIndex: 2 * i,
    data: buildWave(panelWaves[i][0], panelWaves[i][1], panelWaves[i][2]),
    showSymbol: false, symbol: 'none', clip: false, silent: true, z: 3,
    lineStyle: {color: '#000', width: 1}});
  graphics.push({t: panelNames[i], x: 109, y: L[0] - 5, f: 'bold 20px ' + JP, a: 'left'});
  graphics.push({t: panelUnits[i], x: 81, y: L[0] + L[1] / 2 - 12.5, f: '15px "' + FONT + '"', a: 'right'});
});

// intensity panel (grid 9)
grids.push({left: PLOT_LEFT, top: 1256, width: PLOT_W, height: 255, outerBoundsMode: 'none', containLabel: false});
xAxes.push({type: 'value', gridIndex: 9, min: 10, max: 310, interval: 10, position: 'bottom', offset: 33,
  axisLine: blackLine,
  axisTick: {show: true, inside: true, length: 16, lineStyle: {color: '#000', width: 1}},
  minorTick: {show: true, splitNumber: 10, length: 8, lineStyle: {color: '#000', width: 1}},
  axisLabel: {show: true, margin: 8, color: '#000', fontSize: 20, fontFamily: FONT, formatter: timeFmt},
  splitLine: {show: false}});
yAxes.push({type: 'value', gridIndex: 9, min: 0, max: 7, interval: 1, position: 'left',
  axisLine: blackLine,
  axisTick: {show: true, inside: true, length: 17, lineStyle: {color: '#000', width: 1.5}},
  axisLabel: {show: true, margin: 15, color: '#000', fontSize: 19, fontFamily: FONT},
  splitLine: dotted});
yAxes.push({type: 'value', gridIndex: 9, min: 0, max: 7, interval: 1, position: 'right',
  axisLine: blackLine,
  axisTick: {show: true, inside: true, length: 17, lineStyle: {color: '#000', width: 1.5}},
  axisLabel: {show: false}, splitLine: {show: false}});
series.push({type: 'line', name: '震度', xAxisIndex: 9, yAxisIndex: 18, data: intensity,
  showSymbol: false, symbol: 'none', silent: true, z: 3, lineStyle: {color: '#000', width: 3}});

function psSeries(xi, yi, where) {
  return {type: 'custom', xAxisIndex: xi, yAxisIndex: yi, clip: false, silent: true, z: 6,
    data: psTimes.map(t => [t, 0]),
    renderItem(params, api) {
      const cs = params.coordSys;
      const x = api.coord([api.value(0), 0])[0];
      let y1, y2, ty;
      if (where === 'top') { y1 = cs.y - 59; y2 = cs.y - 46; ty = cs.y - 35; }
      else { const b = cs.y + cs.height; y1 = b + 23; y2 = b + 34; ty = b + 12; }
      return {type: 'group', children: [
        {type: 'rect', shape: {x: x - 1.5, y: y1, width: 3, height: y2 - y1}, style: {fill: PS_COLOR}},
        {type: 'text', style: {text: psLabels[params.dataIndex], x: x, y: ty, fill: PS_COLOR,
          font: '19px "' + FONT + '"', align: 'center', verticalAlign: 'middle', textAlign: 'center', textVerticalAlign: 'middle'}}
      ]};
    }};
}
series.push(psSeries(0, 0, 'top'));
series.push(psSeries(9, 18, 'bottom'));

// spectra grids (10: Fourier, 11: response)
const specGrids = [{top: 126, height: 600}, {top: 912, height: 602}];
specGrids.forEach((g, k) => {
  const gi = 10 + k;
  grids.push({left: 1409, top: g.top, width: 840, height: g.height, show: true, borderColor: '#000', borderWidth: 1.5,
    backgroundColor: 'transparent', outerBoundsMode: 'none', containLabel: false});
  xAxes.push({type: 'log', logBase: 10, gridIndex: gi, min: 0.01, max: 60, position: 'bottom',
    axisLine: blackLine, axisTick: {show: false},
    axisLabel: {show: true, color: '#000', fontSize: 21, fontFamily: FONT, margin: 9, align: 'left',
      formatter: decadeFmt, showMinLabel: true, showMaxLabel: false},
    splitLine: {show: true, lineStyle: {color: '#000', width: 1}}});
  yAxes.push({type: 'log', logBase: 10, gridIndex: gi, min: 0.1, max: 3000, position: 'left',
    axisLine: blackLine, axisTick: {show: false},
    axisLabel: {show: true, color: '#000', fontSize: 16, fontFamily: FONT, margin: 15,
      formatter: decadeFmt, showMinLabel: true, showMaxLabel: false},
    splitLine: {show: true, lineStyle: {color: '#000', width: 1}}});
  series.push({type: 'custom', xAxisIndex: gi, yAxisIndex: 20 + k, silent: true, clip: false, z: 1,
    data: minorX.map(v => [v, 1, 0]).concat(minorY.map(v => [1, v, 1])),
    encode: {x: 0, y: 1},
    renderItem(params, api) {
      const cs = params.coordSys;
      const dash = {stroke: '#9a9a9a', lineWidth: 1, lineDash: [3, 3]};
      const solid = {stroke: '#000', lineWidth: 1.2};
      if (api.value(2) === 0) {
        const x = api.coord([api.value(0), 1])[0];
        const b = cs.y + cs.height;
        return {type: 'group', children: [
          {type: 'line', shape: {x1: x, y1: cs.y, x2: x, y2: b}, style: dash},
          {type: 'line', shape: {x1: x, y1: b, x2: x, y2: b - 9}, style: solid}]};
      }
      const y = api.coord([1, api.value(1)])[1];
      const r = cs.x + cs.width;
      return {type: 'group', children: [
        {type: 'line', shape: {x1: cs.x, y1: y, x2: r, y2: y}, style: dash},
        {type: 'line', shape: {x1: cs.x, y1: y, x2: cs.x + 9, y2: y}, style: solid},
        {type: 'line', shape: {x1: r - 9, y1: y, x2: r, y2: y}, style: solid}]};
    }});
});
function specLine(name, data, color, gi, width) {
  return {type: 'line', name: name, xAxisIndex: gi, yAxisIndex: 10 + gi, data: data, color: color,
    showSymbol: false, symbol: 'none', silent: true, z: 4, lineStyle: {color: color, width: width}};
}
series.push(specLine('NS', fourierNS, C_NS, 10, 2));
series.push(specLine('EW', fourierEW, C_EW, 10, 2));
series.push(specLine('UD', fourierUD, C_UD, 10, 2));
series.push(specLine('NS_r', respNS, C_NS, 11, 2));
series.push(specLine('EW_r', respEW, C_EW, 11, 2));
series.push(specLine('UD_r', respUD, C_UD, 11, 2));
series.push(specLine('Horizon', respH, C_H, 11, 3.5));

function legendItem(name, left, top, h) {
  return {data: [name], left: left, top: top, orient: 'horizontal', align: 'right', padding: 0,
    itemWidth: 61, itemHeight: h, icon: 'rect', selectedMode: false, itemGap: 0,
    formatter: n => n.replace('_r', ''),
    textStyle: {fontSize: 14, color: '#000', fontFamily: FONT, padding: [0, 9, 0, 0]}};
}
const legends = [
  legendItem('NS', 1657, 772, 2), legendItem('EW', 1790, 772, 2), legendItem('UD', 1930, 772, 2),
  legendItem('NS_r', 1566, 1556, 2), legendItem('EW_r', 1721, 1556, 2), legendItem('UD_r', 1883, 1556, 2),
  legendItem('Horizon', 2004, 1556, 4)
];

graphics.push(
  {t: '2026/7/28 16:27:10-', x: 368, y: 43, f: '29px "' + FONT + '"', a: 'center'},
  {t: '阿蘇市内牧', x: 947, y: 42, f: 'bold 31px ' + JP, a: 'center'},
  {t: '震度（参考値）：4.87', x: 110, y: 1237, f: 'bold 26px ' + JP, a: 'left'},
  {t: 'フーリエスペクトル', x: 1830, y: 92, f: '31px ' + JP, a: 'center'},
  {t: '0.4Hz band smoothing', x: 2014, y: 95, f: '21px "' + FONT + '"', a: 'left'},
  {t: 'cm/sec(gal·sec)', x: 1373, y: 105, f: '16px "' + FONT + '"', a: 'left'},
  {t: 'sec', x: 2163, y: 756, f: '21px "' + FONT + '"', a: 'left'},
  {t: '相対速度応答スペクトル', x: 1828, y: 876, f: '32px ' + JP, a: 'center'},
  {t: 'h=5%', x: 2180, y: 879, f: '21px "' + FONT + '"', a: 'left'},
  {t: 'cm/sec', x: 1372, y: 889, f: '16px "' + FONT + '"', a: 'left'},
  {t: 'sec', x: 2163, y: 1542, f: '21px "' + FONT + '"', a: 'left'}
);

const chart = echarts.init(document.getElementById('c'), null, {renderer: 'canvas', width: 2316, height: 1637});
chart.setOption({
  animation: false,
  backgroundColor: '#fff',
  textStyle: {fontFamily: FONT, color: '#000'},
  grid: grids, xAxis: xAxes, yAxis: yAxes, series: series, legend: legends,
  graphic: graphics.map(o => ({type: 'text', silent: true, z: 10,
    style: {text: o.t, x: o.x, y: o.y, font: o.f, fill: '#000', align: o.a, verticalAlign: 'middle',
      textAlign: o.a, textVerticalAlign: 'middle'}}))
});
</script></body></html>
